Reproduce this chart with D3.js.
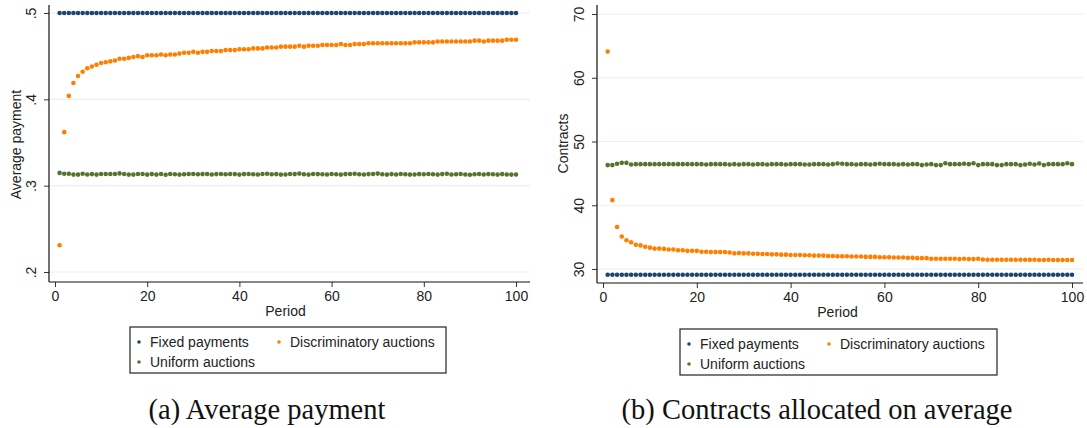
<!DOCTYPE html>
<html><head><meta charset="utf-8">
<script src="https://cdn.jsdelivr.net/npm/d3@7"></script>
<style>body{margin:0;background:#fff}svg{display:block}text{font-family:"Liberation Sans",Arial,sans-serif}</style>
</head><body>
<script>
const periods = d3.range(1, 101);
const seriesNames = ["Fixed payments", "Discriminatory auctions", "Uniform auctions"];
const seriesColors = ["#1a476f", "#ff7f00", "#55752f"];

// Panel (a): average payment
const payFixed = [0.5,0.5,0.5,0.5,0.5,0.5,0.5,0.5,0.5,0.5,0.5,0.5,0.5,0.5,0.5,0.5,0.5,0.5,0.5,0.5,0.5,0.5,0.5,0.5,0.5,0.5,0.5,0.5,0.5,0.5,0.5,0.5,0.5,0.5,0.5,0.5,0.5,0.5,0.5,0.5,0.5,0.5,0.5,0.5,0.5,0.5,0.5,0.5,0.5,0.5,0.5,0.5,0.5,0.5,0.5,0.5,0.5,0.5,0.5,0.5,0.5,0.5,0.5,0.5,0.5,0.5,0.5,0.5,0.5,0.5,0.5,0.5,0.5,0.5,0.5,0.5,0.5,0.5,0.5,0.5,0.5,0.5,0.5,0.5,0.5,0.5,0.5,0.5,0.5,0.5,0.5,0.5,0.5,0.5,0.5,0.5,0.5,0.5,0.5,0.5];
const payDiscr = [0.231,0.362,0.404,0.419,0.427,0.432,0.436,0.438,0.440,0.442,
0.443,0.444,0.445,0.447,0.447,0.448,0.449,0.450,0.449,0.451,
0.451,0.451,0.452,0.451,0.452,0.452,0.453,0.454,0.454,0.455,
0.454,0.455,0.455,0.456,0.456,0.456,0.457,0.457,0.457,0.458,
0.458,0.458,0.459,0.459,0.459,0.460,0.460,0.460,0.461,0.461,
0.461,0.461,0.462,0.461,0.462,0.462,0.462,0.463,0.463,0.463,
0.463,0.464,0.463,0.463,0.464,0.464,0.464,0.465,0.465,0.465,
0.465,0.465,0.465,0.465,0.465,0.465,0.465,0.466,0.466,0.466,
0.466,0.466,0.467,0.467,0.467,0.467,0.467,0.467,0.467,0.467,
0.468,0.468,0.467,0.468,0.468,0.468,0.468,0.469,0.469,0.469];
const payUnif = [0.3148,0.3138,0.3138,0.3128,0.3128,0.3138,0.3130,0.3134,0.3128,0.3136,
0.3136,0.3136,0.3136,0.3142,0.3136,0.3128,0.3128,0.3136,0.3136,0.3128,
0.3134,0.3128,0.3136,0.3126,0.3136,0.3132,0.3128,0.3132,0.3136,0.3136,
0.3132,0.3134,0.3136,0.3130,0.3134,0.3136,0.3132,0.3136,0.3134,0.3128,
0.3134,0.3136,0.3132,0.3130,0.3136,0.3138,0.3132,0.3134,0.3128,0.3130,
0.3136,0.3134,0.3140,0.3132,0.3128,0.3136,0.3134,0.3132,0.3130,0.3136,
0.3132,0.3128,0.3134,0.3136,0.3138,0.3132,0.3130,0.3134,0.3136,0.3140,
0.3132,0.3128,0.3134,0.3130,0.3136,0.3132,0.3128,0.3130,0.3134,0.3132,
0.3136,0.3132,0.3128,0.3134,0.3138,0.3130,0.3132,0.3136,0.3130,0.3126,
0.3132,0.3136,0.3130,0.3134,0.3132,0.3128,0.3134,0.3130,0.3128,0.3130];

// Panel (b): contracts allocated on average
const conFixed = [29.1,29.1,29.1,29.1,29.1,29.1,29.1,29.1,29.1,29.1,29.1,29.1,29.1,29.1,29.1,29.1,29.1,29.1,29.1,29.1,29.1,29.1,29.1,29.1,29.1,29.1,29.1,29.1,29.1,29.1,29.1,29.1,29.1,29.1,29.1,29.1,29.1,29.1,29.1,29.1,29.1,29.1,29.1,29.1,29.1,29.1,29.1,29.1,29.1,29.1,29.1,29.1,29.1,29.1,29.1,29.1,29.1,29.1,29.1,29.1,29.1,29.1,29.1,29.1,29.1,29.1,29.1,29.1,29.1,29.1,29.1,29.1,29.1,29.1,29.1,29.1,29.1,29.1,29.1,29.1,29.1,29.1,29.1,29.1,29.1,29.1,29.1,29.1,29.1,29.1,29.1,29.1,29.1,29.1,29.1,29.1,29.1,29.1,29.1,29.1];
const conDiscr = [64.1,40.8,36.6,35.1,34.5,34.2,33.8,33.7,33.5,33.35,
33.2,33.2,33.15,33.05,33.05,32.95,32.95,32.85,32.85,32.85,
32.7,32.7,32.65,32.65,32.65,32.65,32.6,32.45,32.5,32.45,
32.45,32.4,32.4,32.35,32.35,32.3,32.3,32.25,32.25,32.2,
32.2,32.2,32.15,32.15,32.1,32.1,32.1,32.05,32.05,32.0,
32.0,32.0,31.95,31.95,31.95,31.9,31.9,31.9,31.85,31.85,
31.85,31.8,31.8,31.8,31.75,31.75,31.7,31.7,31.7,31.6,
31.6,31.6,31.6,31.6,31.6,31.55,31.6,31.55,31.55,31.6,
31.5,31.45,31.45,31.45,31.45,31.45,31.45,31.45,31.45,31.45,
31.45,31.45,31.42,31.42,31.45,31.42,31.42,31.42,31.42,31.42];
const conUnif = [46.3,46.3,46.5,46.65,46.65,46.4,46.45,46.45,46.45,46.45,
46.45,46.45,46.45,46.45,46.45,46.45,46.45,46.45,46.45,46.45,
46.45,46.4,46.45,46.45,46.45,46.45,46.4,46.45,46.4,46.45,
46.45,46.4,46.45,46.45,46.4,46.45,46.45,46.45,46.4,46.45,
46.45,46.45,46.4,46.4,46.45,46.45,46.45,46.4,46.45,46.55,
46.5,46.45,46.45,46.4,46.45,46.45,46.4,46.45,46.5,46.45,
46.45,46.45,46.4,46.45,46.4,46.45,46.45,46.3,46.4,46.45,
46.3,46.3,46.6,46.45,46.45,46.45,46.5,46.45,46.6,46.3,
46.45,46.45,46.45,46.3,46.3,46.45,46.45,46.45,46.3,46.4,
46.5,46.4,46.55,46.3,46.45,46.45,46.45,46.45,46.6,46.45];

const payTicks = [0.2, 0.3, 0.4, 0.5];
const payTickLabels = [".2", ".3", ".4", ".5"];
const conTicks = [30, 40, 50, 60, 70];
const conTickLabels = ["30", "40", "50", "60", "70"];
const xTicks = [0, 20, 40, 60, 80, 100];

const W = 1087, H = 428;
const svg = d3.select("body").append("svg").attr("width", W).attr("height", H);

function panel(cfg) {
  const g = svg.append("g");
  const x = d3.scaleLinear().domain([0, 100]).range(cfg.xr);
  const y = d3.scaleLinear().domain(cfg.yd).range(cfg.yr);
  // gridlines
  g.selectAll("line.grid").data(cfg.yTicks).join("line")
    .attr("x1", cfg.box[0]).attr("x2", cfg.box[1])
    .attr("y1", d => y(d)).attr("y2", d => y(d))
    .attr("stroke", "#eaf0f0").attr("stroke-width", 1.2);
  // y axis
  const ya = g.append("g").attr("transform", `translate(${cfg.box[0]},0)`)
    .call(d3.axisLeft(y).tickValues(cfg.yTicks).tickFormat((d, i) => cfg.yLabels[i]).tickSize(5).tickSizeOuter(0));
  ya.select(".domain").remove();
  ya.selectAll(".tick line").attr("stroke", "#333");
  ya.selectAll(".tick text").attr("x", null).attr("dy", null).attr("y", null)
    .attr("transform", "translate(-13,0) rotate(-90)").attr("text-anchor", "middle")
    .attr("font-size", 14).attr("fill", "#222").style("font-family", "Liberation Sans, Arial, sans-serif");
  // x axis
  const xa = g.append("g").attr("transform", `translate(0,${cfg.box[3]})`)
    .call(d3.axisBottom(x).tickValues(xTicks).tickSize(5).tickSizeOuter(0));
  xa.select(".domain").remove();
  xa.selectAll(".tick line").attr("stroke", "#333");
  xa.selectAll(".tick text").attr("y", 9).attr("dy", "0.71em").attr("font-size", 14).attr("fill", "#222")
    .style("font-family", "Liberation Sans, Arial, sans-serif");
  // axis lines
  g.append("line").attr("x1", cfg.box[0]).attr("x2", cfg.box[0]).attr("y1", cfg.box[2]).attr("y2", cfg.box[3])
    .attr("stroke", "#111").attr("stroke-width", 1.2);
  g.append("line").attr("x1", cfg.box[0]).attr("x2", cfg.box[1]).attr("y1", cfg.box[3]).attr("y2", cfg.box[3])
    .attr("stroke", "#111").attr("stroke-width", 1.2);
  // titles
  g.append("text").attr("transform", `translate(${cfg.ytitleX},${(cfg.yr[0] + cfg.yr[1]) / 2 + 2}) rotate(-90)`)
    .attr("text-anchor", "middle").attr("font-size", 14).attr("fill", "#222").text(cfg.ytitle);
  g.append("text").attr("x", x(50)).attr("y", cfg.box[3] + 34).attr("text-anchor", "middle")
    .attr("font-size", 14).attr("fill", "#222").text("Period");
  // points
  cfg.series.forEach((vals, si) => {
    g.append("g").selectAll("circle").data(vals).join("circle")
      .attr("cx", (d, i) => x(periods[i])).attr("cy", d => y(d))
      .attr("r", 2.3).attr("fill", seriesColors[si]);
  });
  // legend
  const L = cfg.legend;
  const lg = g.append("g");
  lg.append("rect").attr("x", L[0]).attr("y", L[1]).attr("width", L[2]).attr("height", L[3])
    .attr("fill", "#fff").attr("stroke", "#222").attr("stroke-width", 1.2);
  const pos = [[L[0] + 9, L[1] + 15], [L[0] + 149, L[1] + 15], [L[0] + 9, L[1] + 35]];
  seriesNames.forEach((nm, i) => {
    lg.append("circle").attr("cx", pos[i][0]).attr("cy", pos[i][1]).attr("r", 1.8).attr("fill", seriesColors[i]);
    lg.append("text").attr("x", pos[i][0] + 11).attr("y", pos[i][1] + 5).attr("font-size", 14)
      .attr("fill", "#222").text(nm);
  });
  // caption
  svg.append("text").attr("x", cfg.capX).attr("y", 419).attr("text-anchor", "middle")
    .style("font-family", "Liberation Serif, Times New Roman, serif").attr("font-size", 28.5)
    .attr("fill", "#111").text(cfg.caption);
}

panel({xr: [55, 516], yd: [0.2, 0.5], yr: [272, 13], box: [49, 530, 5, 282],
  yTicks: payTicks, yLabels: payTickLabels, ytitle: "Average payment", ytitleX: 21,
  series: [payFixed, payDiscr, payUnif], legend: [130, 327, 316, 46],
  caption: "(a) Average payment", capX: 267});
panel({xr: [603, 1072], yd: [30, 70], yr: [269, 14], box: [597, 1083, 5, 283],
  yTicks: conTicks, yLabels: conTickLabels, ytitle: "Contracts", ytitleX: 568,
  series: [conFixed, conDiscr, conUnif], legend: [680, 329, 317, 46],
  caption: "(b) Contracts allocated on average", capX: 817});
</script>
</body></html>
